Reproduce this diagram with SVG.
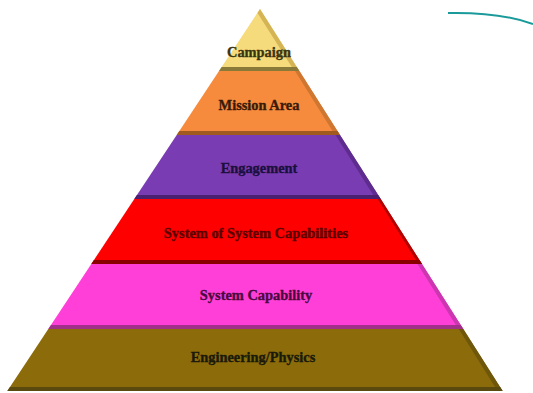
<svg xmlns="http://www.w3.org/2000/svg" width="533" height="393" viewBox="0 0 533 393">
<style>
text{font-family:"Liberation Serif","Times New Roman",serif;font-weight:bold;font-size:14.4px;text-anchor:middle;stroke-width:0.35px}
</style>
<rect width="533" height="393" fill="#ffffff"/>
<g id="campaign">
<polygon points="260,9 299.4,71 219,71" fill="#F6DB7C"/>
<polygon points="260,9 299.4,71 294.4,71 257.5,13" fill="#D4B455"/>
<polygon points="221.6,67 296.8,67 299.4,71 219,71" fill="#8A7A3A"/>
<text x="259" y="57" fill="#3A3410" stroke="#3A3410">Campaign</text>
</g>
<g id="mission-area">
<polygon points="219,71 299.4,71 340,135 176.7,135" fill="#F68B3E"/>
<polygon points="299.4,71 340,135 335,135 295,71" fill="#CF7630"/>
<polygon points="179.3,131 337.5,131 340,135 176.7,135" fill="#A15A1E"/>
<text x="259" y="110" fill="#3A1A08" stroke="#3A1A08">Mission Area</text>
</g>
<g id="engagement">
<polygon points="176.7,135 340,135 380.7,199 134.3,199" fill="#7A3CB2"/>
<polygon points="340,135 380.7,199 375.7,199 335.5,135" fill="#5E2C8E"/>
<polygon points="137,195 378.1,195 380.7,199 134.3,199" fill="#4A2070"/>
<text x="259" y="173" fill="#1A1040" stroke="#1A1040">Engagement</text>
</g>
<g id="sos-capabilities">
<polygon points="134.3,199 380.7,199 422,264 91.3,264" fill="#FF0000"/>
<polygon points="380.7,199 422,264 418.5,264 377.7,199" fill="#B00000"/>
<polygon points="94,260 419.4,260 422,264 91.3,264" fill="#8A0000"/>
<text x="256" y="238" fill="#5A0000" stroke="#5A0000">System of System Capabilities</text>
</g>
<g id="system-capability">
<polygon points="91.3,264 422,264 463.3,329 48.3,329" fill="#FF3FD8"/>
<polygon points="422,264 463.3,329 458.3,329 417.5,264" fill="#CC36B0"/>
<polygon points="51,325 460.7,325 463.3,329 48.3,329" fill="#A0308A"/>
<text x="256" y="300" fill="#4A0A40" stroke="#4A0A40">System Capability</text>
</g>
<g id="engineering-physics">
<polygon points="48.3,329 463.3,329 502.6,391 7.3,391" fill="#8B6B0A"/>
<polygon points="463.3,329 502.6,391 497.6,391 458.8,329" fill="#6E560A"/>
<polygon points="10,387 500.1,387 502.6,391 7.3,391" fill="#5A4A10"/>
<text x="253" y="362" fill="#1A1A0A" stroke="#1A1A0A">Engineering/Physics</text>
</g>
<g id="connectors">
<path d="M448,13 Q500,12 533,24" fill="none" stroke="#1A9A9A" stroke-width="2"/>
</g>
</svg>
